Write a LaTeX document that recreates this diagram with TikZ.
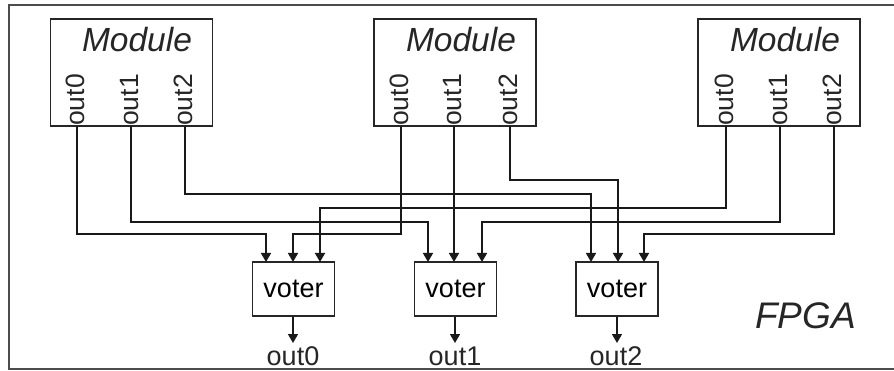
\documentclass[tikz,border=0pt]{standalone}
\usepackage{fontspec}
\setmainfont{Liberation Sans}
\usetikzlibrary{arrows.meta}
\tikzset{
  modbox/.style={draw=black!85,line width=1.4pt,minimum width=162pt,minimum height=107pt,inner sep=0pt},
  votebox/.style={draw=black!85,line width=1.4pt,minimum width=82pt,minimum height=54pt,inner sep=0pt,font=\fontsize{27}{27}\selectfont},
  modtitle/.style={font=\fontsize{33.5}{34}\selectfont\itshape,inner sep=0pt,text=black!85},
  porttext/.style={rotate=90,anchor=base west,inner sep=0pt,font=\fontsize{26.5}{27}\selectfont,text=black!85},
  outtext/.style={inner sep=0pt,font=\fontsize{27}{27}\selectfont,text=black!85},
  wire/.style={line width=1.6pt,draw=black!90},
  arrowwire/.style={wire,-{Triangle[length=9pt,width=10pt]},shorten >=0pt},
  frameline/.style={draw=black!70,line width=1.8pt}
}
\begin{document}
\begin{tikzpicture}[x=1pt,y=-1pt]
\useasboundingbox (0,0) rectangle (894,371);
% frame (open on the right, as the reference is cropped there)
\coordinate (fTR) at (894,5);
\coordinate (fTL) at (9,5);
\coordinate (fBL) at (9,369);
\coordinate (fBR) at (894,369);
\draw[frameline] (fTR) -- (fTL) -- (fBL) -- (fBR);
% modules
\node[modbox] (m1) at (131.5,72.5) {};
\node[modbox] (m2) at (455,72.5) {};
\node[modbox] (m3) at (779,72.5) {};
\node[modtitle] (t1) at (137,40) {Module};
\node[modtitle] (t2) at (461,40) {Module};
\node[modtitle] (t3) at (785,40) {Module};
% port positions on the module edges
\coordinate (a0) at (77,126);
\coordinate (a1) at (131,126);
\coordinate (a2) at (185,126);
\coordinate (b0) at (401,126);
\coordinate (b1) at (454,126);
\coordinate (b2) at (510,126);
\coordinate (c0) at (726,126);
\coordinate (c1) at (780,126);
\coordinate (c2) at (834,126);
% port labels
\node[porttext] (la0) at ([xshift=7pt]a0) {out0};
\node[porttext] (la1) at ([xshift=7pt]a1) {out1};
\node[porttext] (la2) at ([xshift=7pt]a2) {out2};
\node[porttext] (lb0) at ([xshift=7pt]b0) {out0};
\node[porttext] (lb1) at ([xshift=7pt]b1) {out1};
\node[porttext] (lb2) at ([xshift=7pt]b2) {out2};
\node[porttext] (lc0) at ([xshift=7pt]c0) {out0};
\node[porttext] (lc1) at ([xshift=7pt]c1) {out1};
\node[porttext] (lc2) at ([xshift=7pt]c2) {out2};
% voters
\node[votebox] (v1) at (293.5,289) {voter};
\node[votebox] (v2) at (455.5,289) {voter};
\node[votebox] (v3) at (617,289) {voter};
% voter inputs
\coordinate (v1a) at (266,262);
\coordinate (v1b) at (293,262);
\coordinate (v1c) at (320,262);
\coordinate (v2a) at (428,262);
\coordinate (v2b) at (454,262);
\coordinate (v2c) at (482,262);
\coordinate (v3a) at (591,262);
\coordinate (v3b) at (618,262);
\coordinate (v3c) at (644,262);
% bus levels
\coordinate (busP) at (0,180);
\coordinate (busQ) at (0,194);
\coordinate (busR) at (0,208);
\coordinate (busS) at (0,222);
\coordinate (busT) at (0,234);
% connectors
\draw[arrowwire] (a0) |- (v1a |- busT) -- (v1a);
\draw[arrowwire] (a1) |- (v2a |- busS) -- (v2a);
\draw[arrowwire] (a2) |- (v3a |- busQ) -- (v3a);
\draw[arrowwire] (b0) |- (v1b |- busT) -- (v1b);
\draw[arrowwire] (b1) -- (v2b);
\draw[arrowwire] (b2) |- (v3b |- busP) -- (v3b);
\draw[arrowwire] (c0) |- (v1c |- busR) -- (v1c);
\draw[arrowwire] (c1) |- (v2c |- busS) -- (v2c);
\draw[arrowwire] (c2) |- (v3c |- busT) -- (v3c);
% outputs
\node[outtext] (o1) at (293,356) {out0};
\node[outtext] (o2) at (455,356) {out1};
\node[outtext] (o3) at (616,356) {out2};
\coordinate (o1t) at (293,343);
\coordinate (o2t) at (455,343);
\coordinate (o3t) at (617,343);
\draw[arrowwire] (v1.south -| o1t) -- (o1t);
\draw[arrowwire] (v2.south -| o2t) -- (o2t);
\draw[arrowwire] (v3.south -| o3t) -- (o3t);
% FPGA label
\node[inner sep=0pt,font=\fontsize{37}{37}\selectfont\itshape,text=black!85] (fpga) at (805.5,316) {FPGA};
\end{tikzpicture}
\end{document}
